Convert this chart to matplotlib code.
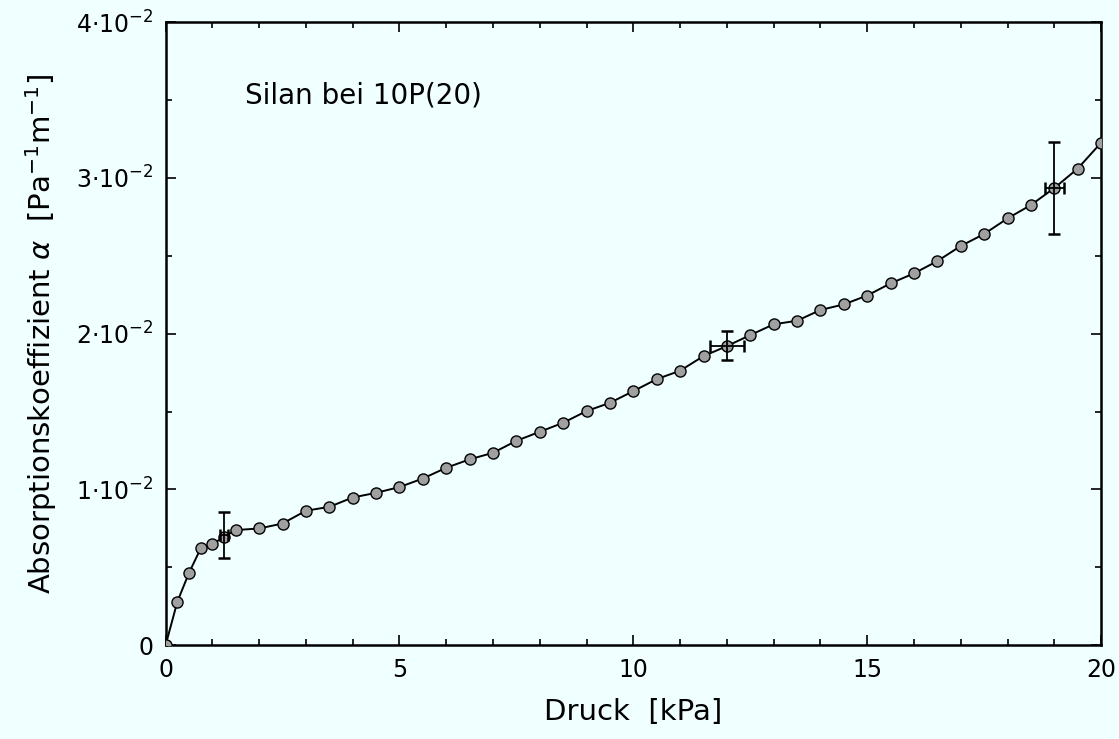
import numpy as np
import matplotlib
matplotlib.use('Agg')
import matplotlib.pyplot as plt
from matplotlib.ticker import MultipleLocator

# pressure [kPa] and absorption coefficient [1e-2 Pa^-1 m^-1]
druck = [0.0, 0.25, 0.5, 0.75, 1.0, 1.25, 1.5, 2.0, 2.5, 3.0, 3.5, 4.0, 4.5,
         5.0, 5.5, 6.0, 6.5, 7.0, 7.5, 8.0, 8.5, 9.0, 9.5, 10.0, 10.5, 11.0,
         11.5, 12.0, 12.5, 13.0, 13.5, 14.0, 14.5, 15.0, 15.5, 16.0, 16.5,
         17.0, 17.5, 18.0, 18.5, 19.0, 19.5, 20.0]
alpha = [0.0, 0.278, 0.464, 0.621, 0.647, 0.696, 0.739, 0.749, 0.781, 0.863,
         0.888, 0.948, 0.978, 1.015, 1.07, 1.139, 1.193, 1.235, 1.312, 1.37,
         1.428, 1.503, 1.556, 1.631, 1.708, 1.762, 1.856, 1.92, 1.991, 2.06,
         2.083, 2.152, 2.188, 2.245, 2.323, 2.387, 2.466, 2.563, 2.64, 2.74,
         2.826, 2.935, 3.06, 3.226]

# error bars
err_x = [1.25, 12.0, 19.0]
err_y = [0.709, 1.923, 2.937]
err_dx = [0.08, 0.37, 0.2]
err_dy = [0.147, 0.093, 0.295]

yticks = [0, 1, 2, 3, 4]
ytick_labels = ['0', r'$1{\cdot}10^{-2}$', r'$2{\cdot}10^{-2}$',
                r'$3{\cdot}10^{-2}$', r'$4{\cdot}10^{-2}$']

bg = '#f0ffff'
plt.rcParams['mathtext.fontset'] = 'dejavusans'

fig = plt.figure(figsize=(11.19, 7.39), dpi=100, facecolor=bg)
ax = fig.add_axes([0.148, 0.127, 0.836, 0.843], facecolor=bg)

ax.plot(druck, alpha, color='black', lw=1.4, marker='o', ms=8,
        mfc='#a0a0a0', mec='black', mew=1.0, zorder=3)
ax.errorbar(err_x, err_y, xerr=err_dx, yerr=err_dy, fmt='none',
            ecolor='black', elinewidth=1.3, capsize=4, capthick=1.8, zorder=4)

ax.set_xlim(0, 20)
ax.set_ylim(0, 4)
ax.xaxis.set_major_locator(MultipleLocator(5))
ax.xaxis.set_minor_locator(MultipleLocator(1))
ax.yaxis.set_minor_locator(MultipleLocator(0.5))
ax.set_yticks(yticks)
ax.set_yticklabels(ytick_labels)
ax.tick_params(which='both', direction='in', top=True, right=True,
               labelsize=17, width=1.2)
ax.tick_params(which='major', length=7, pad=9)
ax.tick_params(which='minor', length=4)
for s in ax.spines.values():
    s.set_linewidth(1.8)

ax.set_xlabel('Druck  [kPa]', fontsize=21, labelpad=12)
ax.set_ylabel(r'Absorptionskoeffizient $\alpha$  [Pa$^{-1}$m$^{-1}$]',
              fontsize=21, labelpad=12)
ax.text(0.085, 0.883, 'Silan bei 10P(20)', transform=ax.transAxes,
        fontsize=20, va='center', ha='left')

fig.savefig('out.png', dpi=100, facecolor=bg)
